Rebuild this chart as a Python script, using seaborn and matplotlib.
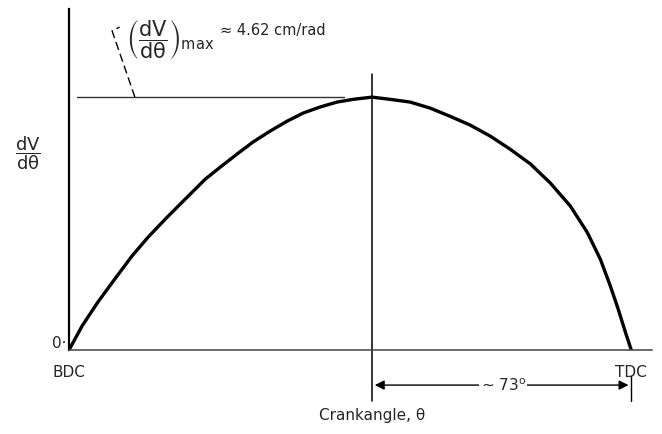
import numpy as np
import pandas as pd
import matplotlib
matplotlib.use("Agg")
import matplotlib.pyplot as plt
import seaborn as sns

# --- DATA ---
# crank angle measured from BDC (deg), dV/dtheta in cm/rad
crank_deg = [0, 4.2, 9.3, 14.7, 20.2, 25.3, 30.8, 36.2, 43.6, 48.4, 53.8,
             58.9, 64.4, 69.8, 75.0, 80.4, 85.8, 91.0, 97.0, 102.8, 109.2,
             115.6, 122.0, 128.4, 134.8, 141.2, 147.7, 154.1, 160.5, 165.9,
             170.1, 173.3, 175.8, 178.1, 180.0]
dvdtheta = [0, 0.44, 0.88, 1.30, 1.72, 2.06, 2.39, 2.70, 3.12, 3.34, 3.58,
            3.80, 4.00, 4.18, 4.33, 4.44, 4.53, 4.58, 4.62, 4.58, 4.53,
            4.42, 4.27, 4.11, 3.91, 3.67, 3.40, 3.05, 2.63, 2.15,
            1.66, 1.17, 0.75, 0.33, 0]
tick_pos = [0, 180]
tick_labels = ["BDC", "TDC"]
max_label = "4.62 cm/rad"
gap_label = "~ 73$^{\\mathrm{o}}$"

sns.set_style("white")
plt.rcParams["font.family"] = ["DejaVu Sans"]
plt.rcParams["mathtext.fontset"] = "dejavusans"

df = pd.DataFrame({"theta": crank_deg, "dv": dvdtheta})

fig = plt.figure(figsize=(6.62, 4.35), dpi=100)
ax = fig.add_axes([0.1042, 0.193, 0.881, 0.784])

sns.lineplot(data=df, x="theta", y="dv", ax=ax, color="black", linewidth=2.4,
             estimator=None, sort=False)

ax.set_xlim(0, 186.7)
ax.set_ylim(0, 6.23)
for s in ["top", "right"]:
    ax.spines[s].set_visible(False)
ax.spines["left"].set_linewidth(1.6)
ax.spines["bottom"].set_linewidth(1.1)
ax.spines["left"].set_color("black")
ax.spines["bottom"].set_color("#444444")

ax.set_xticks(tick_pos)
ax.set_xticklabels(tick_labels, fontsize=11)
ax.set_yticks([0])
ax.set_yticklabels(["0·"], fontsize=11, va="bottom")
ax.tick_params(axis="x", length=0, pad=10)
ax.tick_params(axis="y", length=0, pad=2)
ax.set_xlabel("")
ax.set_ylabel(r"$\dfrac{\mathrm{dV}}{\mathrm{d\theta}}$", rotation=0,
              fontsize=13)
ax.yaxis.set_label_coords(-0.07, 0.525)

# peak marker lines
i_max = int(np.argmax(dvdtheta))
x_pk, y_pk = crank_deg[i_max], dvdtheta[i_max]
ax.plot([x_pk, x_pk], [5.04, -0.93], color="black", lw=1.1, clip_on=False)
ax.plot([2.6, x_pk - 9], [y_pk, y_pk], color="#333333", lw=1.0)

# dashed leader to the label
ax.plot([21.1, 13.8, 16.2], [y_pk, 5.83, 5.90], color="black", lw=1.0,
        ls=(0, (6, 3)), clip_on=False)
ax.text(18.3, 5.70, r"$\left(\dfrac{\mathrm{dV}}{\mathrm{d\theta}}\right)_{\mathrm{max}}$",
        fontsize=15, ha="left", va="center")
ax.text(48.5, 5.86, "≈ " + max_label, fontsize=10.5, ha="left", va="center")

# ~73 deg dimension arrow
y_arr = -0.64
ax.annotate("", xy=(crank_deg[-1], y_arr), xytext=(x_pk, y_arr),
            arrowprops=dict(arrowstyle="<|-|>", color="black", lw=1.0,
                            mutation_scale=14), annotation_clip=False)
ax.plot([crank_deg[-1], crank_deg[-1]], [-0.47, -0.93], color="black", lw=1.0,
        clip_on=False)
ax.text((x_pk + crank_deg[-1]) / 2 + 0.5, y_arr, gap_label, fontsize=11,
        ha="center", va="center", clip_on=False,
        bbox=dict(facecolor="white", edgecolor="none", pad=1))

ax.text(x_pk, -1.18, "Crankangle, θ", fontsize=11, ha="center", va="center")

plt.savefig("out.png", dpi=100)
